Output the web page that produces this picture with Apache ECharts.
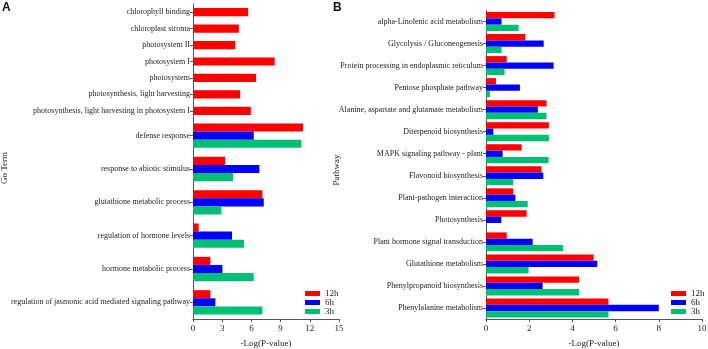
<!DOCTYPE html>
<html>
<head>
<meta charset="utf-8">
<script src="https://cdn.jsdelivr.net/npm/echarts@6/dist/echarts.min.js"></script>
<style>
  html, body { margin: 0; padding: 0; background: #fff; }
  #chart { width: 708px; height: 349px; }
</style>
</head>
<body>
<div id="chart"></div>
<script>
// A: GO terms with only the 12h bar
const goTopCats = ['chlorophyll binding', 'chloroplast stroma', 'photosystem II', 'photosystem I',
  'photosystem', 'photosynthesis, light harvesting', 'photosynthesis, light harvesting in photosystem I']
const goTop12h = [5.67, 4.71, 4.34, 8.39, 6.49, 4.85, 5.94]

// A: GO terms with all three time points
const goCats = ['defense response', 'response to abiotic stimulus', 'glutathione metabolic process',
  'regulation of hormone levels', 'hormone metabolic process',
  'regulation of jasmonic acid mediated signaling pathway']
const go12h = [11.3, 3.29, 7.13, 0.58, 1.79, 1.79]
const go6h = [6.24, 6.82, 7.27, 4.01, 3.02, 2.3]
const go3h = [11.14, 4.11, 2.92, 5.24, 6.24, 7.13]

// B: KEGG pathways
const pathCats = ['alpha-Linolenic acid metabolism', 'Glycolysis / Gluconeogenesis',
  'Protein processing in endoplasmic reticulum', 'Pentose phosphate pathway',
  'Alanine, aspartate and glutamate metabolism', 'Diterpenoid biosynthesis',
  'MAPK signaling pathway - plant', 'Flavonoid biosynthesis', 'Plant-pathogen interaction',
  'Photosynthesis', 'Plant hormone signal transduction', 'Glutathione metabolism',
  'Phenylpropanoid biosynthesis', 'Phenylalanine metabolism']
const path12h = [3.17, 1.82, 0.96, 0.46, 2.8, 2.91, 1.65, 2.57, 1.26, 1.88, 0.96, 4.98, 4.31, 5.67]
const path6h = [0.72, 2.67, 3.13, 1.57, 2.4, 0.34, 0.77, 2.65, 1.36, 0.71, 2.16, 5.15, 2.62, 8.0]
const path3h = [1.51, 0.72, 0.86, 0.18, 2.8, 2.91, 2.9, 1.25, 1.93, 0, 3.57, 1.97, 4.31, 5.67]

const legendNames = ['12h', '6h', '3h']

const RED = '#ff0000'
const BLUE = '#0000ff'
const GREEN = '#00bf73'
const FONT = 'Liberation Serif'
const AXIS_COLOR = '#555'

const myChart = echarts.init(document.getElementById('chart'))

// 通用的类目轴
const catAxis = (idx, data) => ({
  type: 'category',
  gridIndex: idx,
  data: data,
  inverse: true,
  axisLine: { lineStyle: { color: AXIS_COLOR, width: 1 } },
  axisTick: { show: true, alignWithLabel: true, length: 3, lineStyle: { color: AXIS_COLOR } },
  axisLabel: { color: '#222', fontFamily: FONT, fontSize: 8, margin: 3 }
})

const valAxis = (idx, max, interval, show, name) => ({
  type: 'value',
  gridIndex: idx,
  min: 0,
  max: max,
  interval: interval,
  show: show,
  name: name,
  nameLocation: 'middle',
  nameGap: 20,
  nameTextStyle: { color: '#222', fontFamily: FONT, fontSize: 9 },
  splitLine: { show: false },
  axisLine: { show: true, lineStyle: { color: AXIS_COLOR } },
  axisTick: { show: true, length: 3, lineStyle: { color: AXIS_COLOR } },
  axisLabel: { color: '#222', fontFamily: FONT, fontSize: 9, margin: 5 }
})

const bar = (name, color, xi, yi, data, extra) => Object.assign({
  name: name,
  type: 'bar',
  xAxisIndex: xi,
  yAxisIndex: yi,
  data: data,
  barGap: '0%',
  itemStyle: { color: color },
  animation: false
}, extra || {})

const legendOpt = (left) => ({
  orient: 'vertical',
  left: left,
  top: 289,
  padding: 0,
  data: legendNames,
  icon: 'rect',
  itemWidth: 15,
  itemHeight: 5,
  itemGap: 0,
  textStyle: { color: '#222', fontFamily: FONT, fontSize: 9, lineHeight: 9 }
})

// 竖排的轴标题
const vTitle = (text, x, y) => ({
  type: 'text', x: x, y: y, rotation: Math.PI / 2,
  style: { text: text, font: '9px Liberation Serif', fill: '#222', align: 'center', verticalAlign: 'middle' }
})

const options = {
  animation: false,
  grid: [
    { left: 193, width: 146, top: 4, height: 115, outerBoundsMode: 'none' },
    { left: 193, width: 146, top: 119, height: 200, outerBoundsMode: 'none' },
    { left: 486, width: 216, top: 10.5, height: 308.5, outerBoundsMode: 'none' }
  ],
  xAxis: [
    valAxis(0, 15, 3, false),
    valAxis(1, 15, 3, true, '-Log(P-value)'),
    valAxis(2, 10, 2, true, '-Log(P-value)')
  ],
  yAxis: [
    catAxis(0, goTopCats),
    catAxis(1, goCats),
    catAxis(2, pathCats)
  ],
  legend: [legendOpt(305), legendOpt(671)],
  series: [
    bar('12h', RED, 0, 0, goTop12h, { barCategoryGap: '50%' }),
    bar('12h', RED, 1, 1, go12h, { barCategoryGap: '27%' }),
    bar('6h', BLUE, 1, 1, go6h),
    bar('3h', GREEN, 1, 1, go3h),
    bar('12h', RED, 2, 2, path12h, { barCategoryGap: '14%' }),
    bar('6h', BLUE, 2, 2, path6h),
    bar('3h', GREEN, 2, 2, path3h)
  ],
  graphic: [
    { type: 'text', left: 2, top: 2, style: { text: 'A', font: 'bold 12px Liberation Sans', fill: '#111' } },
    { type: 'text', left: 333, top: 2, style: { text: 'B', font: 'bold 12px Liberation Sans', fill: '#111' } },
    vTitle('Go Term', 5, 168),
    vTitle('Pathway', 337, 170)
  ]
}

myChart.setOption(options)
</script>
</body>
</html>
